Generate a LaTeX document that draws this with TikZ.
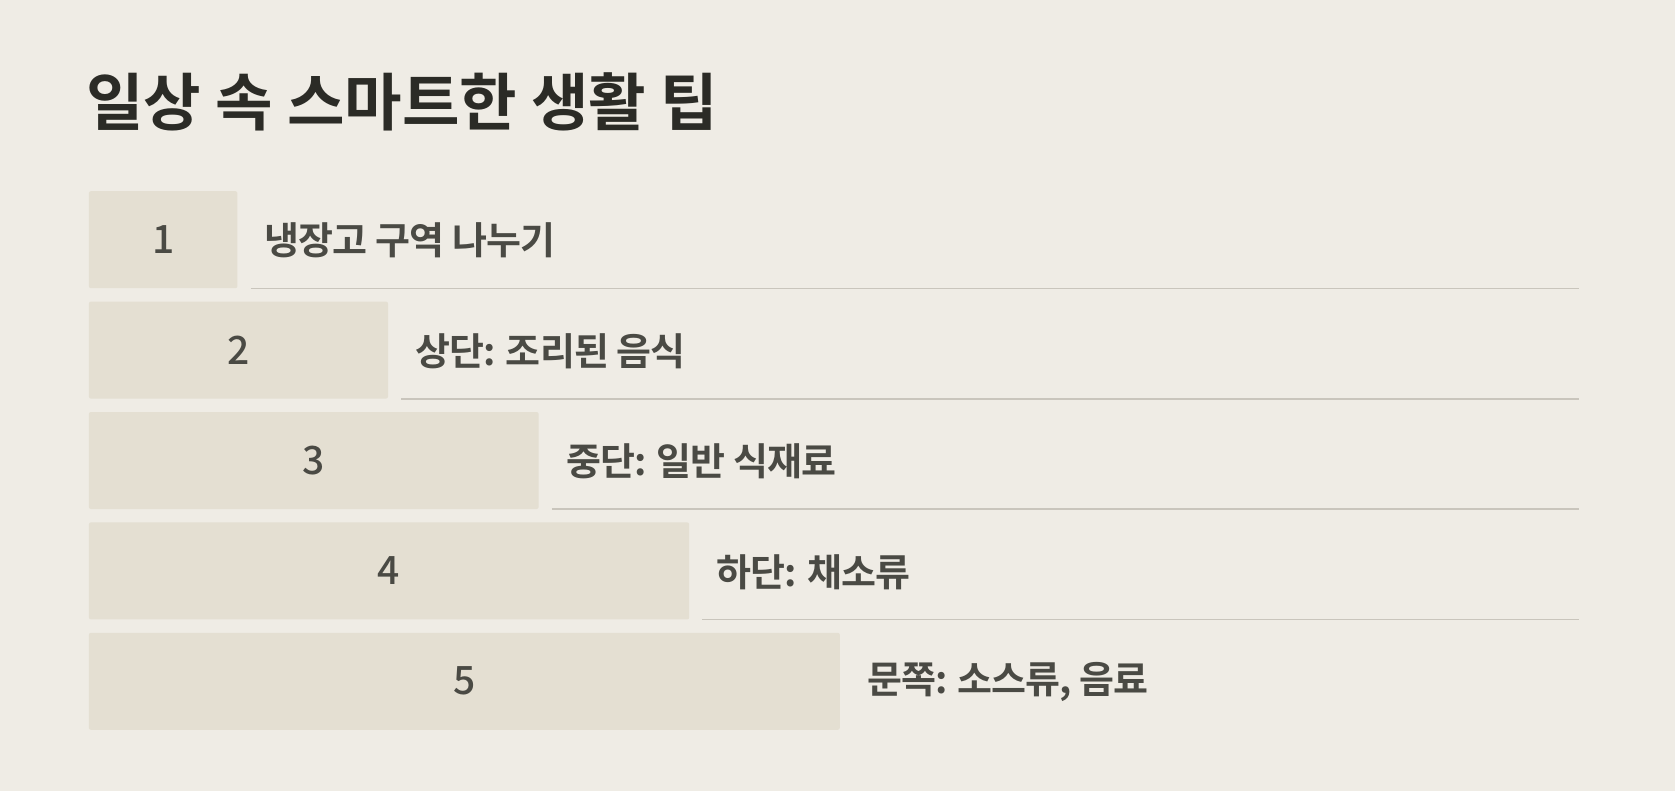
\documentclass[tikz,border=0pt]{standalone}
\usepackage{fontspec}
\setmainfont{Noto Sans CJK KR}
\newfontfamily\krb{Noto Sans CJK KR Bold}
\newfontfamily\krl{Noto Sans CJK KR Bold}[LetterSpace=-2.5]
\newfontfamily\kr{Noto Sans CJK KR Medium}
\definecolor{bg}{HTML}{EFECE5}
\definecolor{boxc}{HTML}{E4DFD2}
\definecolor{titlec}{HTML}{2B2B26}
\definecolor{labc}{HTML}{4A4A44}
\definecolor{linec}{HTML}{C9C5BC}
\tikzset{
  stepbox/.style={fill=boxc, draw=none, rounded corners=2pt, inner sep=0pt, minimum height=97pt, anchor=north west, text=labc, font=\kr\fontsize{39}{44}\selectfont},
  steplabel/.style={anchor=west, inner sep=0pt, text=labc, font=\krl\fontsize{38}{44}\selectfont},
  rule/.style={draw=linec, line width=1.5pt}
}
\begin{document}
\begin{tikzpicture}[x=1pt,y=-1pt]
\useasboundingbox[fill=bg] (0,0) rectangle (1675,791);
\node[anchor=base west, inner sep=0pt, text=titlec, font=\krb\fontsize{62.5}{68}\selectfont] (title) at (86,126) {일상 속 스마트한 생활 팁};
\coordinate (endx) at (1579,0);
\foreach \i/\lab in {1/냉장고 구역 나누기, 2/상단: 조리된 음식, 3/중단: 일반 식재료, 4/하단: 채소류, 5/문쪽: 소스류{,} 음료}{
  \pgfmathsetmacro{\ytop}{191+110.4*(\i-1)}
  \pgfmathsetmacro{\w}{148.5+150.6*(\i-1)}
  \node[stepbox, minimum width=\w pt] (box\i) at (88.7,\ytop) {\i};
  \node[steplabel] (lab\i) at ([xshift=27pt,yshift=-1pt]box\i.east) {\lab};
}
\foreach \i in {1,...,4}{
  \draw[rule] ([xshift=13pt]box\i.south east) -- (box\i.south east -| endx);
}
\end{tikzpicture}
\end{document}
